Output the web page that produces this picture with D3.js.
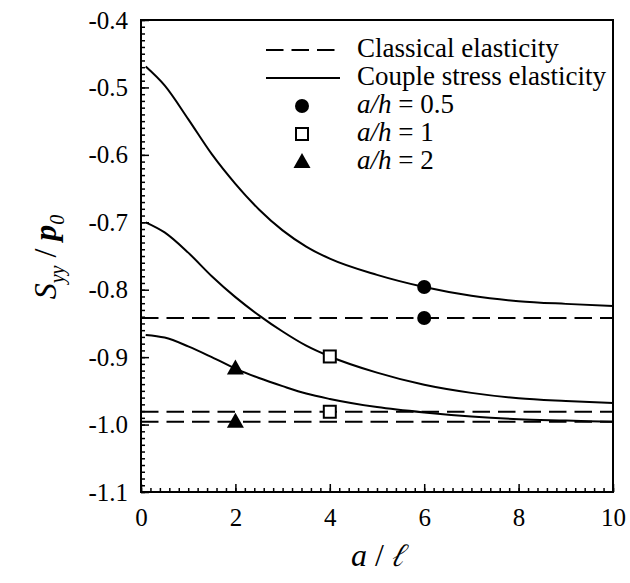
<!DOCTYPE html>
<html>
<head>
<meta charset="utf-8">
<script src="https://cdn.jsdelivr.net/npm/d3@7/dist/d3.min.js"></script>
<style>
  html, body { margin: 0; padding: 0; background: #fff; }
  svg { display: block; }
</style>
</head>
<body>
<svg id="chart" width="630" height="583"></svg>
<script>
// Normalised stress S_yy/p0 versus a/ℓ
const xTicks = [0, 2, 4, 6, 8, 10];
const yTicks = [-0.4, -0.5, -0.6, -0.7, -0.8, -0.9, -1.0, -1.1];

// Couple stress elasticity curves (a/h = 0.5, 1, 2)
const ratioX = [0.1, 0.5, 1, 1.5, 2, 2.5, 3, 3.5, 4, 5, 6, 7, 8, 9, 10];
const coupleH05 = [-0.469, -0.497, -0.547, -0.599, -0.643, -0.681, -0.712, -0.736, -0.754, -0.778, -0.796, -0.809, -0.817, -0.821, -0.824];
const coupleH1  = [-0.700, -0.715, -0.745, -0.780, -0.811, -0.838, -0.862, -0.883, -0.899, -0.923, -0.941, -0.953, -0.961, -0.965, -0.968];
const coupleH2  = [-0.867, -0.871, -0.884, -0.900, -0.917, -0.931, -0.943, -0.954, -0.962, -0.974, -0.982, -0.988, -0.992, -0.994, -0.996];

// Classical elasticity levels (a/h = 0.5, 1, 2)
const classical = [-0.842, -0.981, -0.996];

// Marked points: x position, couple-stress value, classical value
const markerKinds = ["circle", "square", "triangle"];
const markerX = [6, 4, 2];
const markerCouple = [-0.796, -0.899, -0.917];
const markerClassical = [-0.842, -0.981, -0.996];

const legendLabels = ["Classical elasticity", "Couple stress elasticity", "a/h = 0.5", "a/h = 1", "a/h = 2"];

const FONT = "'Liberation Serif', 'Times New Roman', serif";
const svg = d3.select("#chart");
const m = { left: 141, top: 20, right: 613, bottom: 492 };

const x = d3.scaleLinear().domain([0, 10]).range([m.left, m.right]);
const y = d3.scaleLinear().domain([-1.1, -0.4]).range([m.bottom, m.top]);

// Minor ticks
svg.append("g")
  .attr("transform", `translate(${m.left},0)`)
  .call(d3.axisLeft(y).tickValues(d3.range(-110, -39, 1).map(d => d / 100)).tickSize(-4).tickFormat(""))
  .call(g => g.select(".domain").remove())
  .call(g => g.selectAll("line").attr("stroke", "#000").attr("stroke-width", 1.5));
svg.append("g")
  .attr("transform", `translate(0,${m.bottom})`)
  .call(d3.axisBottom(x).tickValues(d3.range(0, 51, 1).map(d => d / 5)).tickSize(-4).tickFormat(""))
  .call(g => g.select(".domain").remove())
  .call(g => g.selectAll("line").attr("stroke", "#000").attr("stroke-width", 1.5));

// Major ticks with labels
svg.append("g")
  .attr("transform", `translate(${m.left},0)`)
  .call(d3.axisLeft(y).tickValues(yTicks).tickSize(-8).tickPadding(13).tickFormat(d => d.toFixed(1)))
  .call(g => g.select(".domain").remove())
  .call(g => g.selectAll("line").attr("stroke", "#000").attr("stroke-width", 1.5))
  .call(g => g.selectAll("text").attr("font-size", 25).style("font-family", FONT).attr("fill", "#000"));
svg.append("g")
  .attr("transform", `translate(0,${m.bottom})`)
  .call(d3.axisBottom(x).tickValues(xTicks).tickSize(-8).tickPadding(16).tickFormat(d => String(d)))
  .call(g => g.select(".domain").remove())
  .call(g => g.selectAll("line").attr("stroke", "#000").attr("stroke-width", 1.5))
  .call(g => g.selectAll("text").attr("font-size", 25).style("font-family", FONT).attr("fill", "#000"));

// Frame
svg.append("rect")
  .attr("x", m.left).attr("y", m.top)
  .attr("width", m.right - m.left).attr("height", m.bottom - m.top)
  .attr("fill", "none").attr("stroke", "#000").attr("stroke-width", 2);

// Classical lines (dashed)
svg.append("g").selectAll("line").data(classical).join("line")
  .attr("x1", x(0)).attr("x2", x(10))
  .attr("y1", d => y(d)).attr("y2", d => y(d))
  .attr("stroke", "#000").attr("stroke-width", 2)
  .attr("stroke-dasharray", "17.5,8");

// Couple stress curves
const line = d3.line().x(d => x(d[0])).y(d => y(d[1])).curve(d3.curveMonotoneX);
[coupleH05, coupleH1, coupleH2].forEach(vals => {
  svg.append("path")
    .datum(ratioX.map((r, i) => [r, vals[i]]))
    .attr("d", line)
    .attr("fill", "none").attr("stroke", "#000").attr("stroke-width", 2);
});

// Marker drawing
function drawMarker(g, kind, cx, cy) {
  if (kind === "circle") {
    g.append("circle").attr("cx", cx).attr("cy", cy).attr("r", 7).attr("fill", "#000");
  } else if (kind === "square") {
    g.append("rect").attr("x", cx - 6).attr("y", cy - 6).attr("width", 12).attr("height", 12)
      .attr("fill", "#fff").attr("stroke", "#000").attr("stroke-width", 2);
  } else {
    g.append("path")
      .attr("d", `M${cx},${cy - 9}L${cx + 8.5},${cy + 6}L${cx - 8.5},${cy + 6}Z`)
      .attr("fill", "#000");
  }
}

const markers = svg.append("g");
markerKinds.forEach((k, i) => {
  drawMarker(markers, k, x(markerX[i]), y(markerCouple[i]));
  drawMarker(markers, k, x(markerX[i]), y(markerClassical[i]));
});

// Legend
const leg = svg.append("g");
const legY0 = 50, legDy = 28, textX = 357;
leg.append("line").attr("x1", 266).attr("x2", 336).attr("y1", legY0).attr("y2", legY0)
  .attr("stroke", "#000").attr("stroke-width", 2).attr("stroke-dasharray", "17.5,8");
leg.append("line").attr("x1", 266).attr("x2", 340).attr("y1", legY0 + legDy).attr("y2", legY0 + legDy)
  .attr("stroke", "#000").attr("stroke-width", 2);
markerKinds.forEach((k, i) => drawMarker(leg, k, 302, legY0 + legDy * (i + 2)));

legendLabels.forEach((lab, i) => {
  const t = leg.append("text").attr("x", textX).attr("y", legY0 + legDy * i + 7)
    .attr("font-size", 27).style("font-family", FONT).attr("fill", "#000");
  if (i < 2) {
    t.text(lab);
  } else {
    const parts = lab.split(" = ");
    t.append("tspan").style("font-style", "italic").text(parts[0]);
    t.append("tspan").text(" = " + parts[1]);
  }
});

// Axis titles
const xt = svg.append("text").attr("x", 378).attr("y", 566).attr("text-anchor", "middle")
  .attr("font-size", 32).style("font-family", FONT);
xt.append("tspan").style("font-style", "italic").text("a");
xt.append("tspan").text(" / ");
xt.append("tspan").style("font-style", "italic").style("font-family", "FreeSerif, 'Liberation Serif', serif").text("ℓ");

const yt = svg.append("text")
  .attr("transform", "translate(56,257) rotate(-90)")
  .attr("text-anchor", "middle").attr("font-size", 32).style("font-family", FONT);
yt.append("tspan").style("font-style", "italic").text("S");
yt.append("tspan").style("font-style", "italic").attr("font-size", 20).attr("dy", 8).text("yy");
yt.append("tspan").attr("dy", -8).text(" /");
yt.append("tspan").style("font-style", "italic").style("font-weight", "bold").text(" p");
yt.append("tspan").style("font-style", "italic").attr("font-size", 20).attr("dy", 8).text("0");
</script>
</body>
</html>
